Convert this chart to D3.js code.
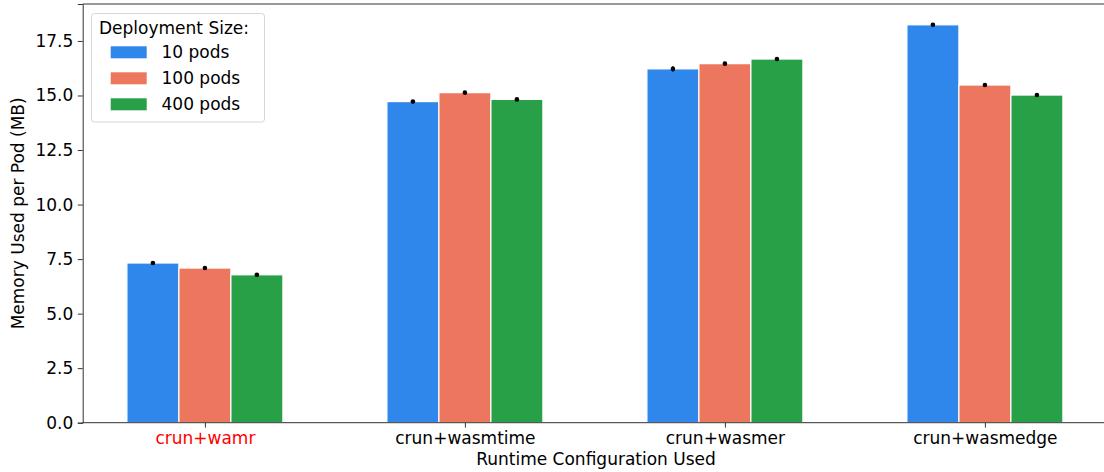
<!DOCTYPE html>
<html>
<head>
<meta charset="utf-8">
<script src="https://cdn.jsdelivr.net/npm/d3@7"></script>
<style>
  html, body { margin: 0; padding: 0; background: #fff; }
  svg { display: block; font-family: "DejaVu Sans", sans-serif; }
</style>
</head>
<body>
<svg id="chart" width="1104" height="472"></svg>
<script>
// Runtime configurations along the x axis
const runtimes = ["crun+wamr", "crun+wasmtime", "crun+wasmer", "crun+wasmedge"];
// Deployment sizes (one bar per size in each group)
const sizes = ["10 pods", "100 pods", "400 pods"];
const sizeColors = ["#2f86eb", "#ed775e", "#28a048"];
// Mean memory per pod (MB), per runtime
const mem10 = [7.32, 14.72, 16.22, 18.24];
const mem100 = [7.09, 15.13, 16.46, 15.48];
const mem400 = [6.78, 14.82, 16.67, 15.02];
// Standard deviation of each mean
const err10 = [0.03, 0.04, 0.12, 0.04];
const err100 = [0.03, 0.03, 0.03, 0.03];
const err400 = [0.03, 0.04, 0.06, 0.03];
const yTicks = [0, 2.5, 5, 7.5, 10, 12.5, 15, 17.5];

const means = [mem10, mem100, mem400];
const errs = [err10, err100, err400];

const svg = d3.select("#chart");
const plotLeft = 82.7, plotTop = 4, plotBottom = 422.7;
const unit = 260; // pixels per category step

// continuous x in category units, bars at i-0.2, i, i+0.2 with width 0.2
const x = d3.scaleLinear().domain([-0.47, 3.49]).range([plotLeft, plotLeft + 3.96 * unit]);
const maxTop = d3.max(means.flatMap((m, s) => m.map((v, i) => v + errs[s][i])));
const y = d3.scaleLinear().domain([0, maxTop * 1.05]).range([plotBottom, plotTop]);

const barW = 0.2;
const offsets = [-0.2, 0, 0.2];

const plot = svg.append("g");
sizes.forEach((s, si) => {
  plot.selectAll(null)
    .data(means[si])
    .enter().append("rect")
    .attr("x", (d, i) => x(i + offsets[si] - barW / 2))
    .attr("width", x(barW) - x(0))
    .attr("y", d => y(d))
    .attr("height", d => y(0) - y(d))
    .attr("fill", sizeColors[si])
    .attr("stroke", "#fff")
    .attr("stroke-width", 1.2);
});

// error bars with mean markers
sizes.forEach((s, si) => {
  const g = plot.append("g");
  means[si].forEach((v, i) => {
    const cx = x(i + offsets[si]);
    g.append("line")
      .attr("x1", cx).attr("x2", cx)
      .attr("y1", y(v - errs[si][i])).attr("y2", y(v + errs[si][i]))
      .attr("stroke", "#000").attr("stroke-width", 1.5);
    g.append("circle")
      .attr("cx", cx).attr("cy", y(v)).attr("r", 2.3).attr("fill", "#000");
  });
});

// spines
svg.append("line").attr("x1", plotLeft).attr("x2", 1104).attr("y1", plotTop).attr("y2", plotTop)
  .attr("stroke", "#333").attr("stroke-width", 1);
svg.append("line").attr("x1", plotLeft).attr("x2", 1104).attr("y1", plotBottom).attr("y2", plotBottom)
  .attr("stroke", "#333").attr("stroke-width", 1);

// y axis
const yAxis = d3.axisLeft(y).tickValues(yTicks).tickFormat(d3.format(".1f")).tickSize(4.9).tickPadding(4.5);
const ya = svg.append("g").attr("transform", `translate(${plotLeft},0)`).call(yAxis);
ya.select(".domain").attr("stroke", "#333");
ya.selectAll(".tick line").attr("stroke", "#333");
ya.selectAll("text").attr("font-size", 17).attr("fill", "#000")
  .attr("font-family", "DejaVu Sans, sans-serif");

// x axis
const xAxis = d3.axisBottom(x).tickValues(runtimes.map((r, i) => i))
  .tickFormat(i => runtimes[i]).tickSize(4.9).tickPadding(4.5).tickSizeOuter(0);
const xa = svg.append("g").attr("transform", `translate(0,${plotBottom})`).call(xAxis);
xa.select(".domain").remove();
xa.selectAll(".tick line").attr("stroke", "#333");
xa.selectAll("text").attr("font-size", 17)
  .attr("font-family", "DejaVu Sans, sans-serif")
  .attr("fill", (d, i) => i === 0 ? "#ff0000" : "#000");

// axis titles
svg.append("text").attr("x", 596).attr("y", 465)
  .attr("text-anchor", "middle").attr("font-size", 17).text("Runtime Configuration Used");
svg.append("text")
  .attr("transform", `translate(24,${(plotTop + plotBottom) / 2}) rotate(-90)`)
  .attr("text-anchor", "middle").attr("font-size", 17).text("Memory Used per Pod (MB)");

// legend
const lg = svg.append("g");
lg.append("rect").attr("x", 91.5).attr("y", 13.5).attr("width", 173).attr("height", 108.5)
  .attr("rx", 3).attr("fill", "#fff").attr("fill-opacity", 0.8)
  .attr("stroke", "#d6d6d6").attr("stroke-width", 1);
lg.append("text").attr("x", 99).attr("y", 33.5).attr("font-size", 17).text("Deployment Size:");
sizes.forEach((s, si) => {
  const cy = 52.3 + si * 26;
  lg.append("rect").attr("x", 110.7).attr("y", cy - 6).attr("width", 36).attr("height", 12)
    .attr("fill", sizeColors[si]);
  lg.append("text").attr("x", 161.5).attr("y", cy + 6).attr("font-size", 17).text(s);
});
</script>
</body>
</html>
